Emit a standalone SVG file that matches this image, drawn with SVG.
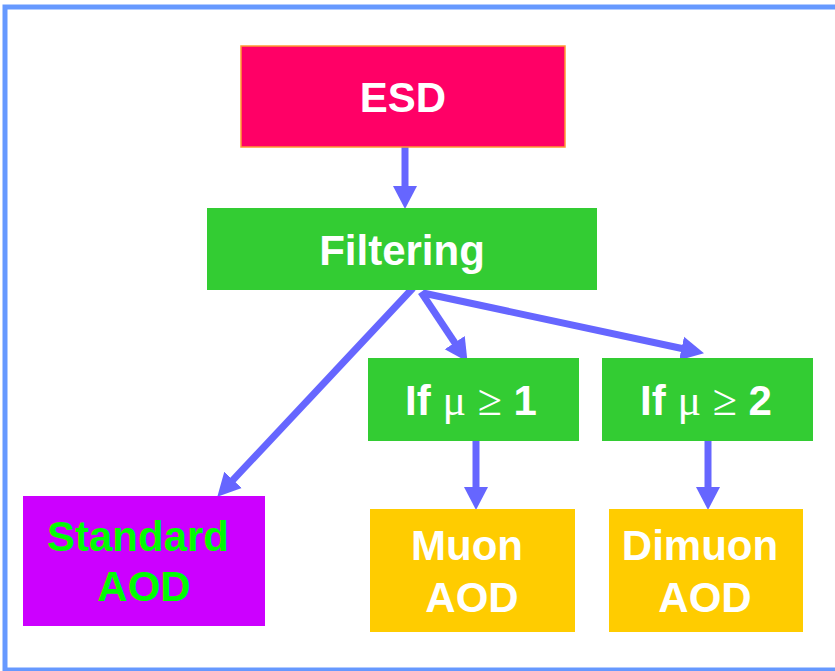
<svg xmlns="http://www.w3.org/2000/svg" width="835" height="671" viewBox="0 0 835 671">
<defs>
<style>
.lbl{font-family:"Liberation Sans",Arial,sans-serif;font-weight:bold;font-size:42px;fill:#ffffff;text-anchor:middle}
.sym{font-family:"Liberation Serif","DejaVu Serif",serif;font-weight:normal;font-size:44px}
.conn{stroke:#6666ff;stroke-width:7;fill:none;marker-end:url(#ah)}
</style>
<marker id="ah" markerUnits="userSpaceOnUse" viewBox="0 -13 24 26" markerWidth="24" markerHeight="26" refX="10" refY="0" orient="auto">
<path d="M0,-12 L23,0 L0,12 z" fill="#6666ff"/>
</marker>
</defs>
<rect x="0" y="0" width="835" height="671" fill="#ffffff"/>
<rect x="5" y="7" width="850" height="663" fill="none" stroke="#6699ff" stroke-width="5"/>
<g id="connectors">
<line class="conn" x1="405" y1="147" x2="405" y2="196"/>
<line class="conn" x1="413" y1="288" x2="226.2" y2="487.2"/>
<line class="conn" x1="421" y1="292" x2="460.3" y2="351"/>
<line class="conn" x1="423" y1="293" x2="691.3" y2="350.5"/>
<line class="conn" x1="476" y1="441" x2="476" y2="497"/>
<line class="conn" x1="708" y1="441" x2="708" y2="497"/>
</g>
<g id="esd">
<rect x="241" y="46" width="324" height="101" fill="#ff0066" stroke="#ff9933" stroke-width="1.5"/>
<text class="lbl" x="403" y="112">ESD</text>
</g>
<g id="filtering">
<rect x="207" y="208" width="390" height="82" fill="#33cc33"/>
<text class="lbl" x="402" y="265">Filtering</text>
</g>
<g id="if1">
<rect x="368" y="358" width="211" height="83" fill="#33cc33"/>
<text class="lbl" x="471" y="415">If <tspan class="sym">μ</tspan> <tspan class="sym">≥</tspan> 1</text>
</g>
<g id="if2">
<rect x="602" y="358" width="211" height="83" fill="#33cc33"/>
<text class="lbl" x="706" y="415">If <tspan class="sym">μ</tspan> <tspan class="sym">≥</tspan> 2</text>
</g>
<g id="standard-aod">
<rect x="23" y="496" width="242" height="130" fill="#cc00ff"/>
<text class="lbl" style="fill:#00ff00" x="138" y="551">Standard</text>
<text class="lbl" style="fill:#00ff00" x="144" y="601">AOD</text>
</g>
<g id="muon-aod">
<rect x="370" y="509" width="205" height="123" fill="#ffcc00"/>
<text class="lbl" x="467" y="560">Muon</text>
<text class="lbl" x="472" y="612">AOD</text>
</g>
<g id="dimuon-aod">
<rect x="609" y="509" width="194" height="123" fill="#ffcc00"/>
<text class="lbl" x="700" y="560">Dimuon</text>
<text class="lbl" x="705" y="612">AOD</text>
</g>
</svg>
